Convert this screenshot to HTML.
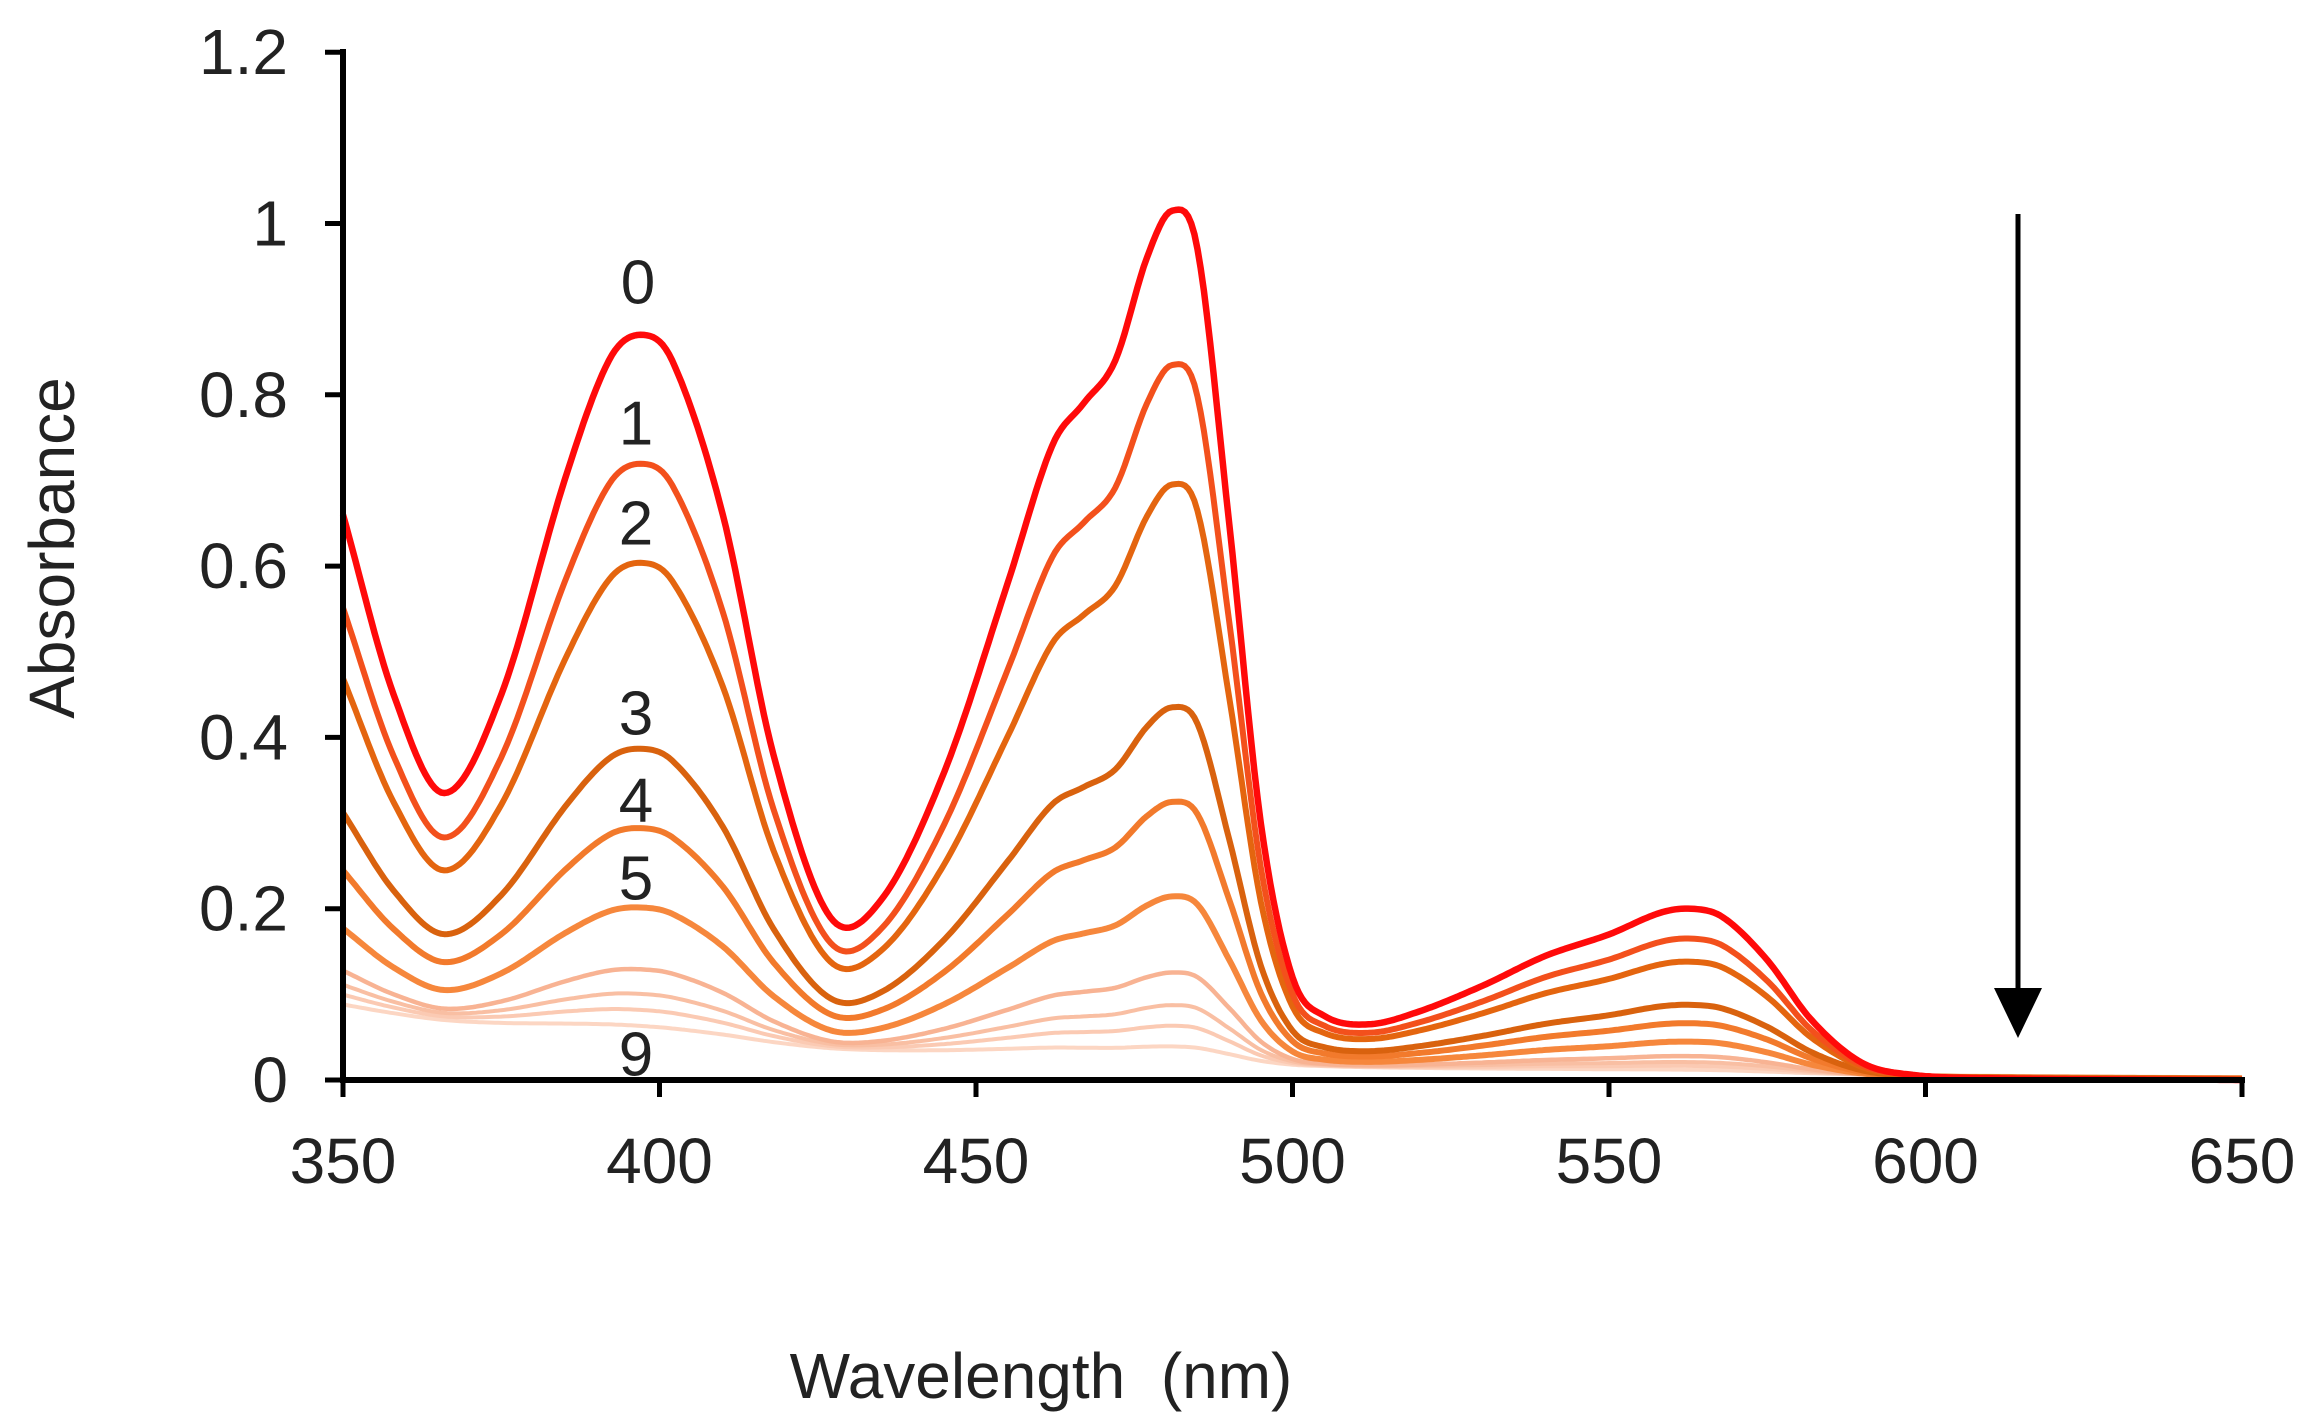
<!DOCTYPE html>
<html><head><meta charset="utf-8"><style>
html,body{margin:0;padding:0;background:#fff;}
svg{display:block;font-family:"Liberation Sans",Arial,sans-serif;}
</style></head><body>
<svg id="s" width="2310" height="1421" viewBox="0 0 2310 1421" xmlns="http://www.w3.org/2000/svg">
<g id="curves"></g>
<g stroke="#000" stroke-width="6" fill="none">
<line x1="343" y1="49" x2="343" y2="1083"/>
<line x1="340" y1="1080" x2="2245" y2="1080"/>
</g>
<g id="ticks" stroke="#000" stroke-width="5"></g>
<g font-size="64" fill="#222" id="labels"></g>
<text x="52" y="548" font-size="64" fill="#222" text-anchor="middle" dominant-baseline="central" transform="rotate(-90 52 548)">Absorbance</text>
<text x="1041" y="1398" font-size="64" fill="#222" text-anchor="middle" xml:space="preserve">Wavelength  (nm)</text>
<line x1="2018" y1="214" x2="2018" y2="990" stroke="#000" stroke-width="5"/>
<polygon points="1994,988 2042,988 2018,1038" fill="#000"/>
<g font-size="62" fill="#222" text-anchor="middle" dominant-baseline="central">
<text x="638" y="283">0</text><text x="636" y="424">1</text><text x="636" y="524">2</text>
<text x="636" y="714">3</text><text x="636" y="801">4</text><text x="636" y="879">5</text>
<text x="636" y="1055">9</text>
</g>
</svg>
<script>
var NS="http://www.w3.org/2000/svg";
function X(l){return 343+(l-350)*6.33;}
function Y(a){return 1080-a*856.5;}
var P=[[350,0.66],[358,0.45],[366,0.335],[375,0.45],[385,0.70],[392,0.84],[397,0.87],[402,0.84],[410,0.66],[418,0.38],[427,0.19],[435,0.21],[445,0.36],[455,0.58],[462,0.74],[467,0.79],[472,0.84],[477,0.96],[481,1.015],[485,0.97],[490,0.65],[495,0.30],[500,0.12],[505,0.075],[512,0.065],[520,0.08],[530,0.11],[540,0.145],[550,0.17],[558,0.195],[563,0.2],[568,0.19],[575,0.14],[582,0.07],[590,0.02],[598,0.006],[610,0.002],[650,0]];
function A0(l){
 for(var i=0;i<P.length-1;i++){if(l<=P[i+1][0]){
  var x0=P[i][0],x1=P[i+1][0],t=(l-x0)/(x1-x0);
  var y0=P[i][1],y1=P[i+1][1];
  var m0=i>0?(P[i+1][1]-P[i-1][1])/(P[i+1][0]-P[i-1][0]):(y1-y0)/(x1-x0);
  var m1=i<P.length-2?(P[i+2][1]-P[i][1])/(P[i+2][0]-P[i][0]):(y1-y0)/(x1-x0);
  var h=x1-x0,t2=t*t,t3=t2*t;
  return (2*t3-3*t2+1)*y0+(t3-2*t2+t)*h*m0+(-2*t3+3*t2)*y1+(t3-t2)*h*m1;}}
 return 0;}
var S=[1,0.82,0.68,0.42,0.31,0.2,0.11,0.07,0.045,0.02];
var B=[0,0.01,0.02,0.035,0.04,0.045,0.055,0.065,0.07,0.075];
var C=["#ff0a0a","#f3501c","#e4650f","#d9620e","#f27a2c","#f6873c","#f8b393","#f9bfa3","#fbcab3","#fcd6c3"];
var W=[6.5,6,6,6,6,6,4.5,4,4,4];
var g=document.getElementById("curves");
for(var k=9;k>=0;k--){
 var d="";
 for(var l=350;l<=650;l+=0.5){
  var a=S[k]*A0(l)+B[k]*Math.exp(-(l-350)/95);
  d+=(l==350?"M":"L")+X(l).toFixed(1)+","+Y(a).toFixed(1);
 }
 var p=document.createElementNS(NS,"path");
 p.setAttribute("d",d);p.setAttribute("fill","none");
 p.setAttribute("stroke",C[k]);p.setAttribute("stroke-width",W[k]);
 p.setAttribute("stroke-linejoin","round");
 g.appendChild(p);
}
var t=document.getElementById("ticks"),lb=document.getElementById("labels");
function mk(tag,at,parent,txt){var e=document.createElementNS(NS,tag);for(var k in at)e.setAttribute(k,at[k]);if(txt!=null)e.textContent=txt;parent.appendChild(e);}
var yl=["0","0.2","0.4","0.6","0.8","1","1.2"];
for(var i=0;i<7;i++){var y=Y(i*0.2);
 mk("line",{x1:325,y1:y,x2:343,y2:y},t);
 mk("text",{x:288,y:y,"text-anchor":"end","dominant-baseline":"central"},lb,yl[i]);}
for(var w=350;w<=650;w+=50){var x=X(w);
 mk("line",{x1:x,y1:1080,x2:x,y2:1097},t);
 mk("text",{x:x,y:1183,"text-anchor":"middle"},lb,String(w));}
</script>
</body></html>
